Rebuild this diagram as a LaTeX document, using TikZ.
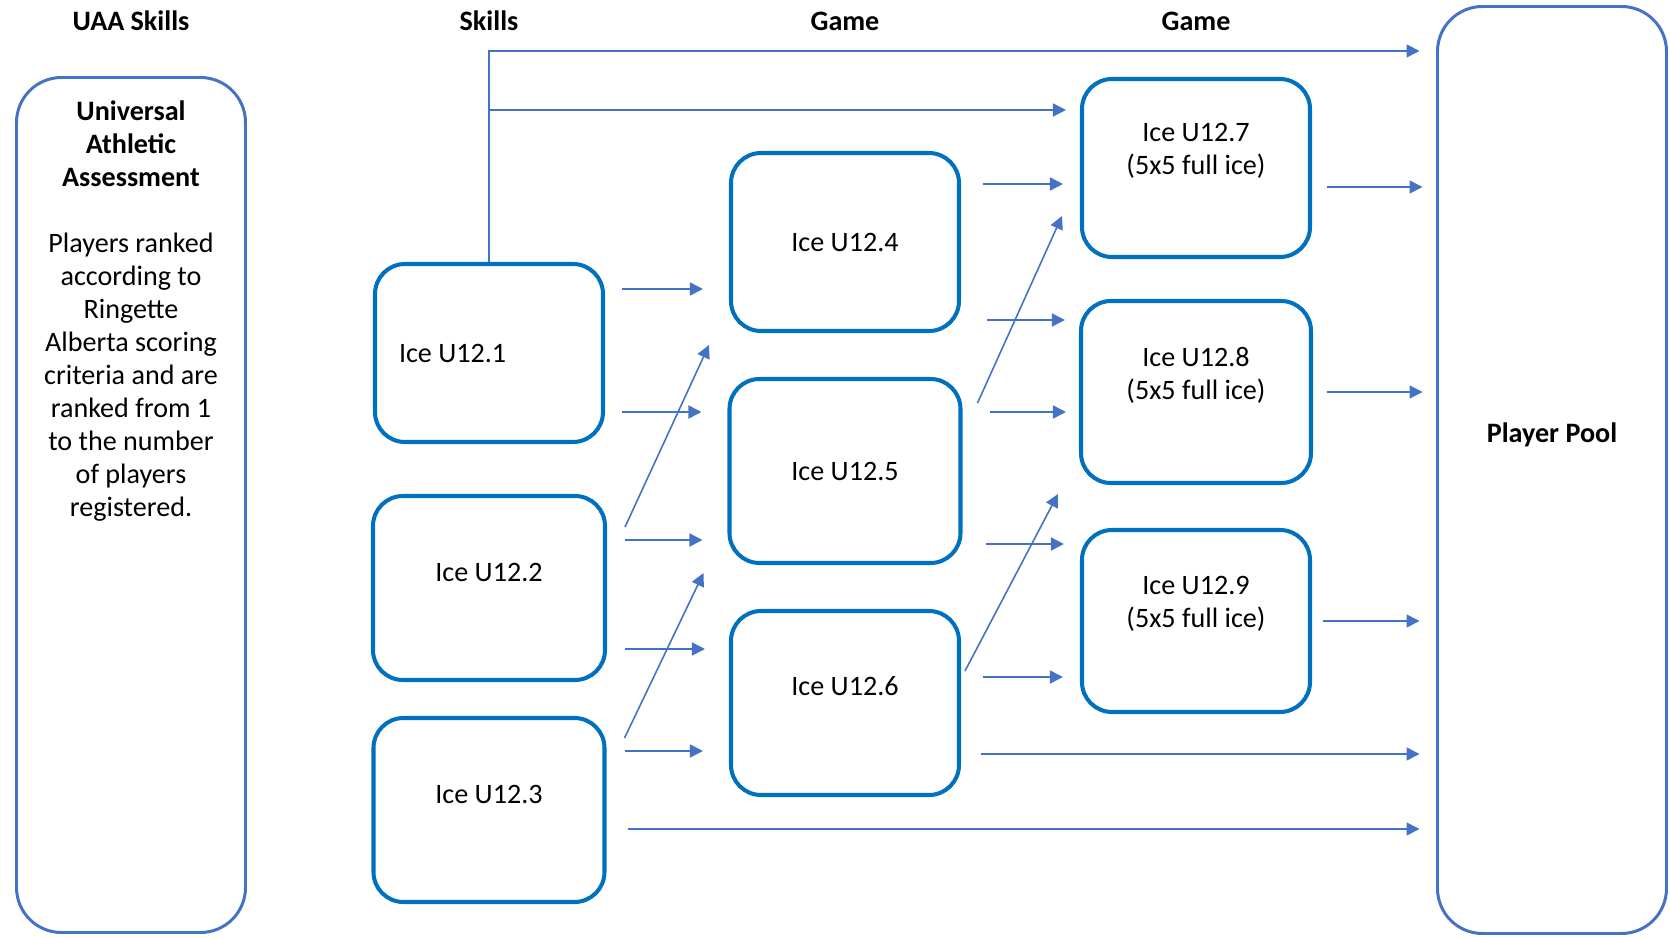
\documentclass[tikz,border=0pt]{standalone}
\usepackage{fontspec}
\setmainfont{Carlito}
\usepackage{tikz}
\usetikzlibrary{calc,positioning,arrows.meta}
\usepackage{xcolor}
\definecolor{mblue}{HTML}{0070C0}
\definecolor{lblue}{HTML}{4472C4}
\tikzstyle{ice}=[rectangle, rounded corners=0.3cm, draw=mblue, line width=1.15pt, minimum width=2.28cm, minimum height=1.78cm, font=\fontsize{8}{9.4}\selectfont, align=center]
\tikzstyle{big}=[rectangle, rounded corners=0.45cm, draw=lblue, line width=0.85pt, minimum width=2.29cm]
\tikzstyle{head}=[font=\fontsize{8}{9.4}\selectfont\bfseries]
\tikzstyle{lbl}=[font=\fontsize{8}{9.4}\selectfont, align=center]
\tikzstyle{l1}=[draw=lblue, line width=0.45pt, -{Triangle[length=3.7pt,width=3.7pt]}]

\begin{document}
\begin{tikzpicture}[node distance=1cm, on grid]

    \useasboundingbox (0,0) rectangle (16.7,-9.38);

    \node[big, minimum height=8.55cm] (uaa) at (1.31,-5.05) {};
    \node[big, minimum height=9.27cm] (pool) at (15.52,-4.70) {};

    \node[ice, text width=1.8cm, align=flush left] (s1) at (4.89,-3.53) {Ice U12.1};
    \node[ice, minimum width=2.32cm, minimum height=1.84cm, label={[lbl, yshift=0.16cm]center:Ice U12.2}] (s2) [below=2.35cm of s1] {};
    \node[ice, minimum width=2.31cm, minimum height=1.84cm, label={[lbl, yshift=0.16cm]center:Ice U12.3}] (s3) [below=2.22cm of s2] {};

    \node[ice] (g4) at (8.45,-2.42) {Ice U12.4};
    \node[ice, minimum width=2.31cm, minimum height=1.84cm] (g5) [below=2.29cm of g4] {Ice U12.5};
    \node[ice, minimum height=1.84cm, label={[lbl, yshift=0.17cm]center:Ice U12.6}] (g6) [below=2.32cm of g5] {};

    \node[ice, label={[lbl, yshift=0.17cm]center:Ice U12.7\\(5x5 full ice)}] (g7) at (11.96,-1.68) {};
    \node[ice, minimum width=2.30cm, minimum height=1.82cm, label={[lbl, yshift=0.17cm]center:Ice U12.8\\(5x5 full ice)}] (g8) [below=2.24cm of g7] {};
    \node[ice, minimum height=1.82cm, label={[lbl, yshift=0.17cm]center:Ice U12.9\\(5x5 full ice)}] (g9) [below=2.29cm of g8] {};

    \node[head] (h0) at (uaa |- 0,-0.21) {UAA Skills};
    \node[head] (h1) at (s1 |- 0,-0.21) {Skills};
    \node[head] (h2) at (g4 |- 0,-0.21) {Game};
    \node[head] (h3) at (g7 |- 0,-0.21) {Game};

    \node[lbl, anchor=north] (uaatxt) at ([yshift=-0.12cm]uaa.north) {\textbf{Universal}\\\textbf{Athletic}\\\textbf{Assessment}\\[9.4pt]Players ranked\\according to\\Ringette\\Alberta scoring\\criteria and are\\ranked from 1\\to the number\\of players\\registered.};
    \node[head] (pooltxt) at ([yshift=0.35cm]pool.center) {Player Pool};

    \foreach \a/\b/\d/\p/\q in {s1/g4/0.64/0.17/0.26, s1/g5/-0.59/0.17/0.26, s2/g5/0.48/0.18/0.25,
        s2/g6/-0.61/0.18/0.24, s3/g6/0.59/0.18/0.26, g4/g7/0.58/0.22/0.17, g4/g8/-0.78/0.26/0.14,
        g5/g8/0.59/0.27/0.13, g5/g9/-0.73/0.23/0.16, g6/g9/0.26/0.22/0.17, g6/pool/-0.51/0.20/0.165,
        g7/pool/-0.19/0.15/0.135, g8/pool/0.0/0.14/0.135, g9/pool/0.0/0.11/0.165, s3/pool/-0.19/0.21/0.165}{
        \coordinate (st) at ([yshift=\d cm]\a.east);
        \draw[l1, shorten <=\p cm, shorten >=\q cm] (st) -- (st -| \b.west);
    }

    \draw[l1] ([xshift=0.18cm,yshift=0.61cm]s2.east) -- ([xshift=-0.20cm,yshift=-0.12cm]g4.south west);
    \draw[l1] ([xshift=0.18cm,yshift=0.72cm]s3.east) -- ([xshift=-0.24cm,yshift=-0.08cm]g5.south west);
    \draw[l1] ([xshift=0.15cm,yshift=0.68cm]g5.east) -- ([xshift=-0.18cm,yshift=0.43cm]g7.south west);
    \draw[l1] ([xshift=0.04cm,yshift=0.32cm]g6.east) -- ([xshift=-0.21cm,yshift=-0.09cm]g8.south west);

    \coordinate (top) at ([yshift=2.11cm]s1.north);
    \coordinate (br) at ([yshift=1.52cm]s1.north);
    \draw[l1, shorten >=0.165cm] (s1.north) -- (top) -- (top -| pool.west);
    \draw[l1, shorten >=0.14cm] (br) -- (br -| g7.west);

\end{tikzpicture}
\end{document}
